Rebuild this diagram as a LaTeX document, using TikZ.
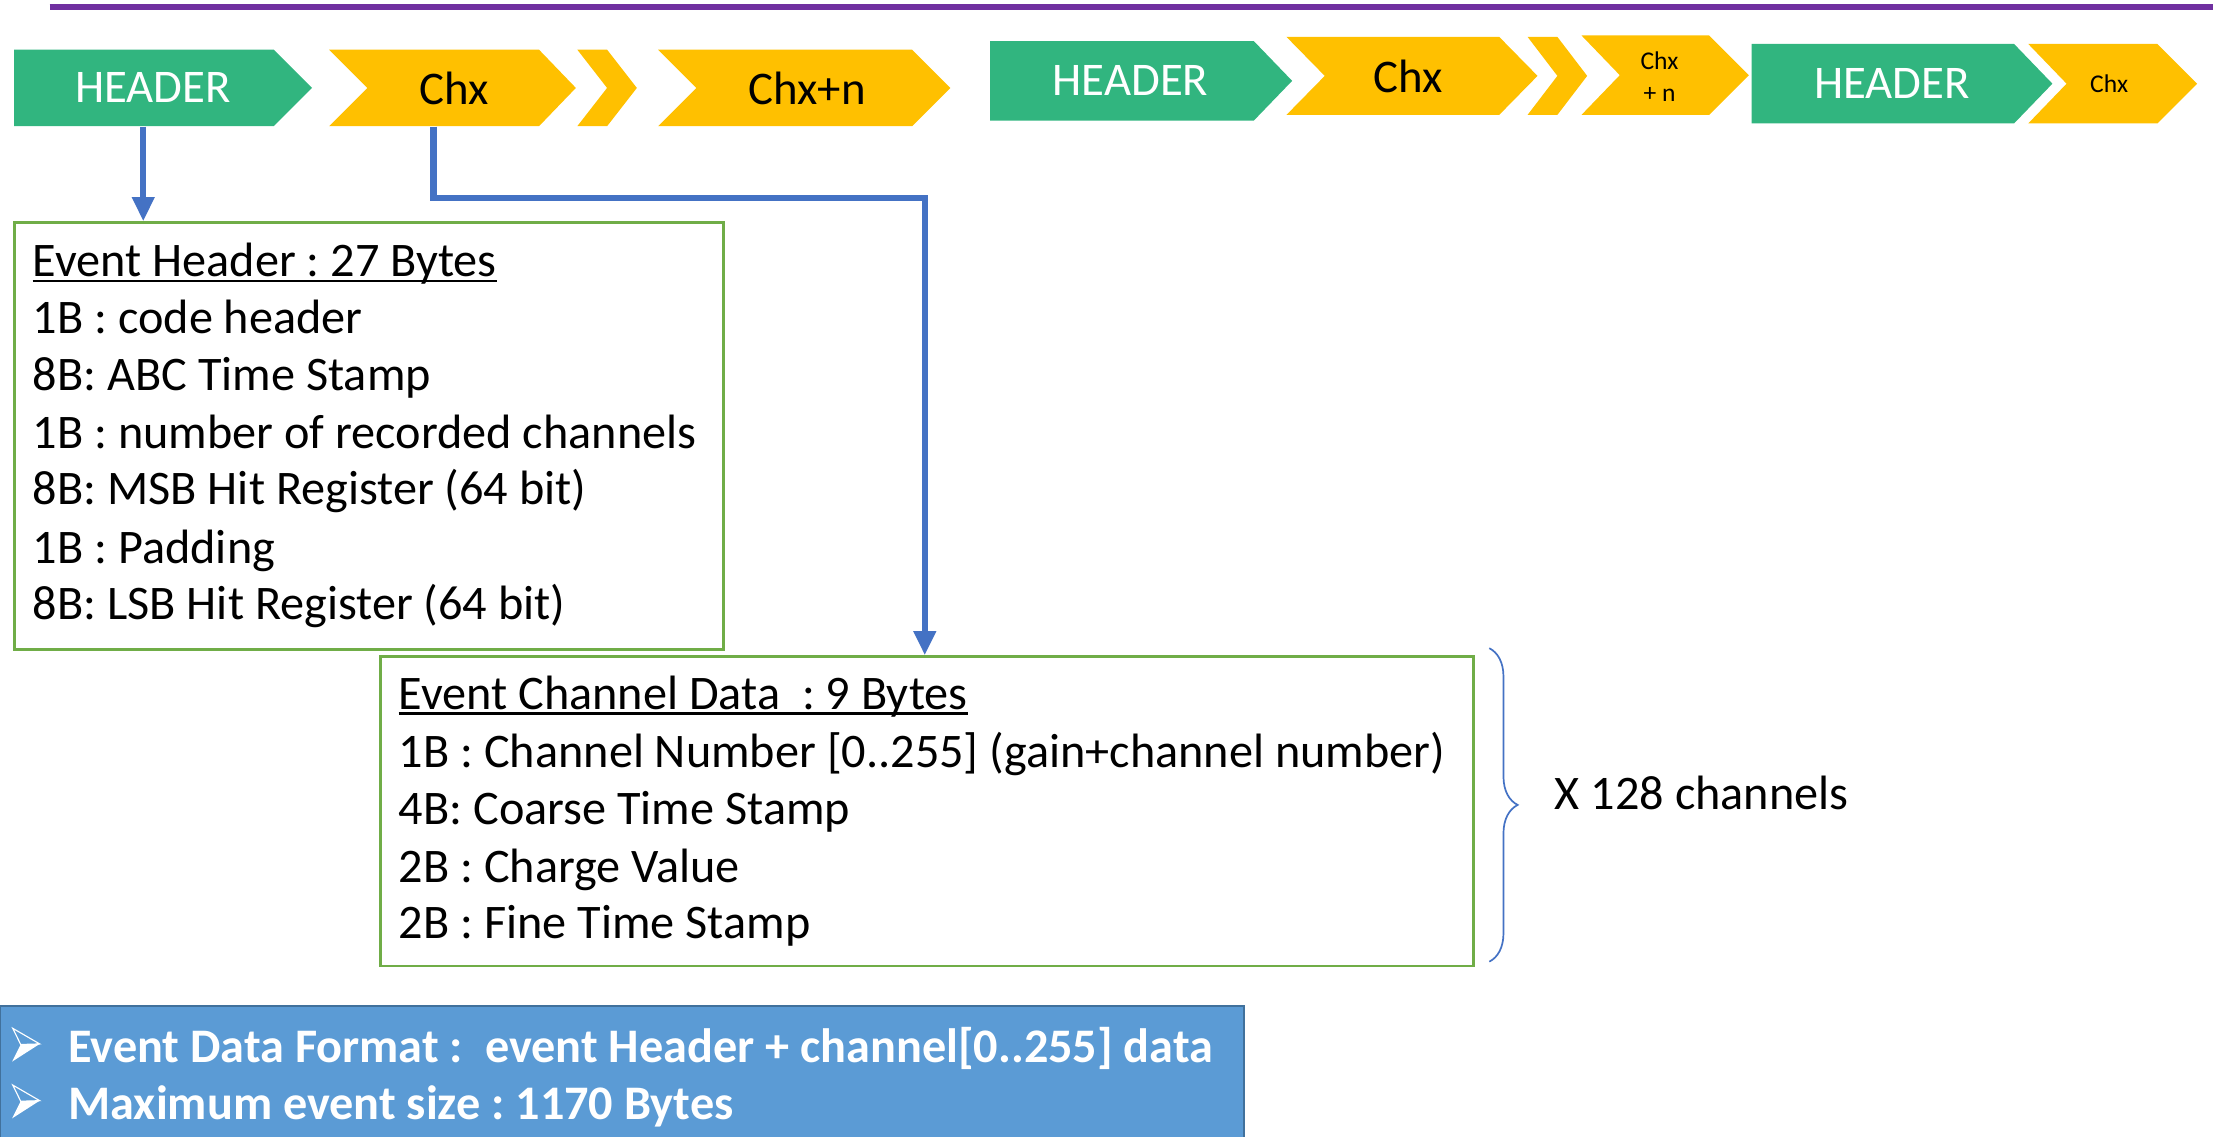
\documentclass[tikz,border=0pt]{standalone}
\usepackage{fontspec}
\setmainfont{Carlito}
\usetikzlibrary{arrows.meta,decorations.pathreplacing}
\frenchspacing

\definecolor{hdrgreen}{HTML}{31B57F}
\definecolor{chyellow}{HTML}{FFC000}
\definecolor{flowblue}{HTML}{4472C4}
\definecolor{boxgreen}{HTML}{70AD47}
\definecolor{bannerblue}{HTML}{5B9BD5}
\definecolor{bannerline}{HTML}{41719C}
\definecolor{rulepurple}{HTML}{7030A0}

% chevron: colour, x left, x notch, x right, x tip, y top, y bottom
\newcommand\chevshape[7]{%
  \fill[#1] (#2,#6) -- (#4,#6) -- (#5,{(#6+#7)/2}) -- (#4,#7) -- (#2,#7) -- (#3,{(#6+#7)/2}) -- cycle;}
% arrowhead bullet: outlined upper half, filled lower half; argument = vertical offset
\newcommand\banbullet[1]{%
  \begin{scope}[shift={(0,#1)}]
    \draw[white, line width=0.8pt, line join=miter] (9,725) -- (28,736) -- (14.6,736.4) -- cycle;
    \fill[white] (14.6,736.4) -- (28,736) -- (8.5,748.5) -- cycle;
  \end{scope}}

\begin{document}
\begin{tikzpicture}[x=1pt,y=-1pt,
  flow/.style={draw=flowblue, line width=4.5pt, line join=miter, -{Triangle[length=17pt,width=15pt]}},
  cbox/.style={draw=boxgreen, line width=2pt, anchor=north west, inner sep=0pt},
  rowtext/.style={anchor=base west, inner sep=0pt, text=black, font=\fontsize{34}{40}\selectfont},
  bantext/.style={anchor=base west, inner sep=0pt, text=white, font=\fontsize{34}{40}\selectfont\bfseries},
  hdrtext/.style={text=white, inner sep=0pt, minimum height=54pt, font=\fontsize{33}{40}\selectfont},
  chtext/.style={text=black, inner sep=0pt, minimum height=54pt, font=\fontsize{33}{40}\selectfont},
  smalltext/.style={text=black, inner sep=0pt, align=center, font=\fontsize{18}{23}\selectfont}
]
\useasboundingbox (0,0) rectangle (1568,801);

% top rule
\draw[rulepurple, line width=4pt] (35,5) -- (1560,5);

% first packet row
\chevshape{hdrgreen}{10}{10}{193}{220}{35}{89}
\chevshape{chyellow}{232}{259}{380}{406}{35}{89}
\chevshape{chyellow}{407}{428}{428}{449}{35}{89}
\chevshape{chyellow}{464}{491}{643}{670}{35}{89}
\node[hdrtext] (hdrA) at (108,62) {HEADER};
\node[chtext]  (chxA) at (320,62) {Chx};
\node[chtext]  (chnA) at (569,62) {Chx+n};

% second packet row
\chevshape{hdrgreen}{698}{698}{884}{911}{29}{85}
\chevshape{chyellow}{907}{934}{1057}{1084}{26}{81}
\chevshape{chyellow}{1077}{1098}{1098}{1119}{26}{81}
\chevshape{chyellow}{1115}{1142}{1205}{1233}{25}{81}
\chevshape{hdrgreen}{1235}{1235}{1420}{1447}{31}{87}
\chevshape{chyellow}{1430}{1457}{1521}{1549}{31}{87}
\node[hdrtext] (hdrB) at (797,57) {HEADER};
\node[chtext]  (chxB) at (993,54) {Chx};
\node[smalltext] (chnB) at (1170,54) {Chx\\+ n};
\node[hdrtext] (hdrC) at (1334,59) {HEADER};
\node[smalltext] (chxC) at (1487,59) {Chx};

% event header block
\node[cbox, minimum width=500pt, minimum height=301pt] (evh) at (9,156) {};
\node[rowtext] (evh0) at (23,195) {Event Header : 27 Bytes};
\draw[black, line width=1.6pt] ([yshift=-3pt]evh0.base west) -- ([yshift=-3pt]evh0.base east);
\node[rowtext] (evh1) at (23,235) {1B : code header};
\node[rowtext] (evh2) at (23,275) {8B: ABC Time Stamp};
\node[rowtext] (evh3) at (23,316) {1B : number of recorded channels};
\node[rowtext] (evh4) at (23,356) {8B: MSB Hit Register (64 bit)};
\node[rowtext] (evh5) at (23,397) {1B : Padding};
\node[rowtext] (evh6) at (23,437) {8B: LSB Hit Register (64 bit)};

% channel data block
\node[cbox, minimum width=771pt, minimum height=218pt] (evc) at (267,462) {};
\node[rowtext] (evc0) at (281,500) {Event Channel Data\ \ : 9 Bytes};
\draw[black, line width=1.6pt] ([yshift=-3pt]evc0.base west) -- ([yshift=-3pt]evc0.base east);
\node[rowtext] (evc1) at (281,541) {1B : Channel Number [0..255] (gain+channel number)};
\node[rowtext] (evc2) at (281,581) {4B: Coarse Time Stamp};
\node[rowtext] (evc3) at (281,622) {2B : Charge Value};
\node[rowtext] (evc4) at (281,662) {2B : Fine Time Stamp};

% connectors
\draw[flow] ([xshift=-7pt]hdrA.south) -- ([xshift=-7pt]hdrA.south |- evh.north);
\coordinate (bend) at (652,139.5);
\draw[flow] ([xshift=-14.5pt]chxA.south) |- (bend) -- (bend |- evc.north);

% repetition brace
\draw[flowblue, line width=1.2pt, decorate, decoration={brace, amplitude=20pt}]
  (1050,457) -- (1050,678);
\node[rowtext] (rep) at (1096,571) {X 128 channels};

% summary banner
\draw[fill=bannerblue, draw=bannerline, line width=1.5pt] (0,709) rectangle (877,820);
\banbullet{0}
\node[bantext] (b1) at (48,749) {Event Data Format :\ \ event Header + channel[0..255] data};
\banbullet{40}
\node[bantext] (b2) at (48,789) {Maximum event size : 1170 Bytes};
\end{tikzpicture}
\end{document}
